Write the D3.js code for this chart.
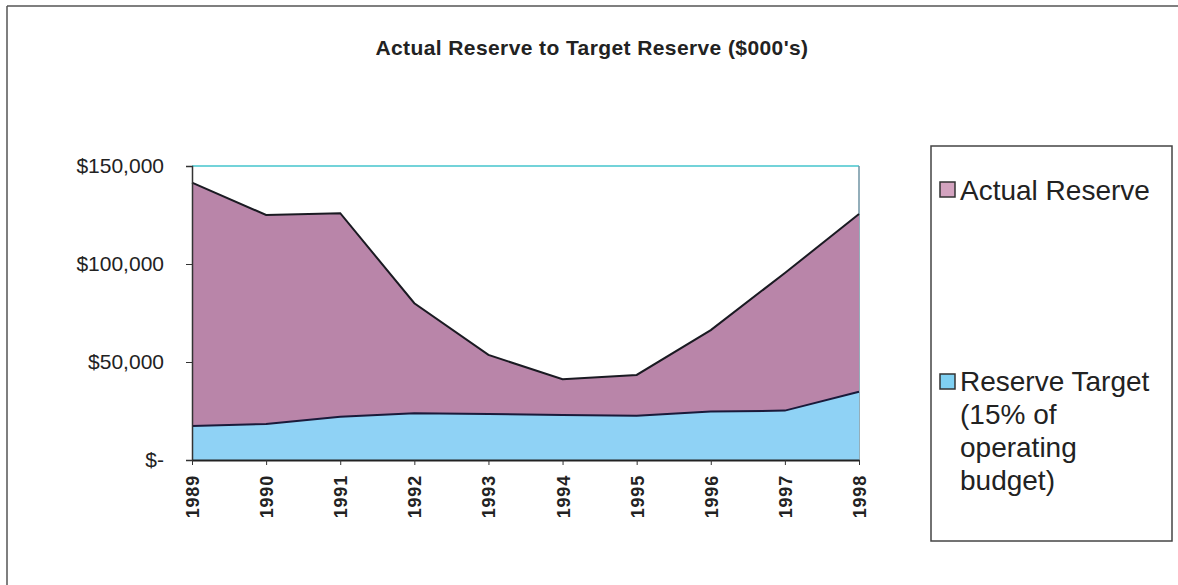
<!DOCTYPE html>
<html>
<head>
<meta charset="utf-8">
<script src="https://cdn.jsdelivr.net/npm/d3@7/dist/d3.min.js"></script>
<style>
  html, body { margin: 0; padding: 0; background: #fff; }
  svg { display: block; font-family: "Liberation Sans", Arial, sans-serif; }
</style>
</head>
<body>
<svg id="chart" width="1178" height="585"></svg>
<script>
// Reserve figures in $000's
const years = ["1989", "1990", "1991", "1992", "1993", "1994", "1995", "1996", "1997", "1998"];
const actualReserve = [141500, 125000, 125900, 80000, 53600, 41200, 43400, 66300, 95400, 125500];
const reserveTarget = [17300, 18400, 22100, 23800, 23500, 23000, 22600, 24700, 25200, 34800];
const yTicks = [0, 50000, 100000, 150000];
const chartTitle = "Actual Reserve to Target Reserve ($000's)";
const legendActual = ["Actual Reserve"];
const legendTarget = ["Reserve Target", "(15% of", "operating", "budget)"];

const svg = d3.select("#chart");

const plot = { left: 192, right: 859, top: 166, bottom: 460 };

const x = d3.scalePoint().domain(years).range([plot.left, plot.right]).padding(0);
const y = d3.scaleLinear().domain([0, 150000]).range([plot.bottom, plot.top]);

const fmtMoney = d3.format(",");
const moneyLabel = v => v === 0 ? "$-" : "$" + fmtMoney(v);

// outer frame
svg.append("line").attr("x1", 7).attr("y1", 6).attr("x2", 1178).attr("y2", 6)
  .attr("stroke", "#555").attr("stroke-width", 1.5);
svg.append("line").attr("x1", 7).attr("y1", 6).attr("x2", 7).attr("y2", 585)
  .attr("stroke", "#555").attr("stroke-width", 1.5);

// title
svg.append("text")
  .attr("x", 592).attr("y", 55)
  .attr("text-anchor", "middle")
  .attr("font-size", 21).attr("font-weight", "bold")
  .attr("letter-spacing", 0.4)
  .attr("fill", "#222")
  .text(chartTitle);

// plot area border (top / right)
svg.append("line").attr("x1", plot.left).attr("y1", plot.top).attr("x2", plot.right).attr("y2", plot.top)
  .attr("stroke", "#45c4cc").attr("stroke-width", 1.5);
svg.append("line").attr("x1", plot.right).attr("y1", plot.top).attr("x2", plot.right).attr("y2", plot.bottom)
  .attr("stroke", "#6f93a3").attr("stroke-width", 1.5);

const area = d3.area()
  .x((d, i) => x(years[i]))
  .y0(y(0))
  .y1(d => y(d));
const topLine = d3.line()
  .x((d, i) => x(years[i]))
  .y(d => y(d));

svg.append("path").datum(actualReserve)
  .attr("d", area).attr("fill", "#b985a9");
svg.append("path").datum(reserveTarget)
  .attr("d", area).attr("fill", "#8fd2f5");

svg.append("path").datum(actualReserve)
  .attr("d", topLine).attr("fill", "none").attr("stroke", "#1a1a22").attr("stroke-width", 2);
svg.append("path").datum(reserveTarget)
  .attr("d", topLine).attr("fill", "none").attr("stroke", "#1a1a3a").attr("stroke-width", 2);

// y axis
const yAxis = svg.append("g")
  .attr("transform", `translate(${plot.left},0)`)
  .call(d3.axisLeft(y).tickValues(yTicks).tickFormat(moneyLabel).tickSize(6).tickPadding(22));
yAxis.select(".domain").attr("stroke", "#333").attr("stroke-width", 1.5);
yAxis.selectAll(".tick line").attr("stroke", "#333");
yAxis.selectAll(".tick text")
  .attr("font-size", 21).attr("fill", "#222")
  .attr("font-family", "Liberation Sans, Arial, sans-serif");

// x axis
const xAxis = svg.append("g")
  .attr("transform", `translate(0,${plot.bottom})`)
  .call(d3.axisBottom(x).tickSize(5).tickSizeOuter(0));
xAxis.select(".domain").attr("stroke", "#222").attr("stroke-width", 2);
xAxis.selectAll(".tick line").attr("stroke", "#333");
xAxis.selectAll(".tick text")
  .attr("font-size", 18).attr("font-weight", "bold").attr("fill", "#222")
  .attr("letter-spacing", 0.8)
  .attr("font-family", "Liberation Sans, Arial, sans-serif")
  .attr("text-anchor", "end")
  .attr("transform", "rotate(-90)")
  .attr("x", -15).attr("y", 0)
  .attr("dy", "0.36em");

// legend
const legend = svg.append("g");
legend.append("rect")
  .attr("x", 931).attr("y", 146).attr("width", 241).attr("height", 395)
  .attr("fill", "#fff").attr("stroke", "#444").attr("stroke-width", 1.5);

legend.append("rect")
  .attr("x", 940).attr("y", 182).attr("width", 15).attr("height", 15)
  .attr("fill", "#d3a3bf").attr("stroke", "#333").attr("stroke-width", 1.5);
legend.append("text")
  .attr("x", 960).attr("y", 200)
  .attr("font-size", 28).attr("fill", "#222")
  .text(legendActual[0]);

legend.append("rect")
  .attr("x", 940).attr("y", 374).attr("width", 15).attr("height", 15)
  .attr("fill", "#7fd0f2").attr("stroke", "#333").attr("stroke-width", 1.5);
const tt = legend.append("text")
  .attr("x", 960).attr("y", 391)
  .attr("font-size", 28).attr("fill", "#222");
tt.selectAll("tspan").data(legendTarget).join("tspan")
  .attr("x", 960)
  .attr("dy", (d, i) => i === 0 ? 0 : 33)
  .text(d => d);
</script>
</body>
</html>
